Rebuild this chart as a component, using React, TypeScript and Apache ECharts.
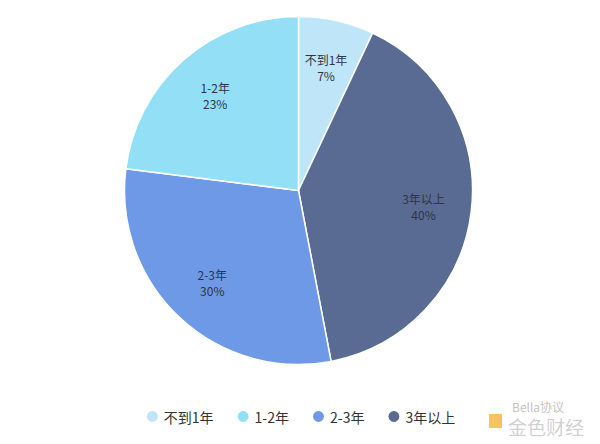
import React, { useEffect, useRef } from "react";
import * as echarts from "echarts";

const sliceNames = ["不到1年", "3年以上", "2-3年", "1-2年"];
const sliceValues = [7, 40, 30, 23];
const sliceColors = ["#BEE6F8", "#5A6B93", "#6E99E7", "#93E0F6"];
const legendOrder = ["不到1年", "1-2年", "2-3年", "3年以上"];

export default function App() {
  const ref = useRef<HTMLDivElement>(null);
  useEffect(() => {
    if (!ref.current) return;
    const chart = echarts.init(ref.current, null, { renderer: "svg" });
    const data = sliceNames.map((n, i) => ({
      name: n,
      value: sliceValues[i],
      itemStyle: { color: sliceColors[i] },
    }));
    chart.setOption({
      animation: false,
      backgroundColor: "#ffffff",
      legend: {
        data: legendOrder,
        left: "center",
        top: 404,
        icon: "circle",
        itemWidth: 13,
        itemHeight: 13,
        itemGap: 22,
        textStyle: {
          fontSize: 14,
          color: "#333",
          fontFamily: "'Noto Sans CJK SC', 'Noto Sans', sans-serif",
        },
      },
      series: [
        {
          type: "pie",
          center: [298.5, 190.5],
          radius: [0, 174],
          startAngle: 90,
          clockwise: true,
          itemStyle: { borderColor: "#fff", borderWidth: 1.5 },
          label: { show: false },
          labelLine: { show: false },
          data,
        },
        {
          type: "pie",
          silent: true,
          center: [298.5, 190.5],
          radius: [72, 174],
          startAngle: 90,
          clockwise: true,
          itemStyle: { color: "rgba(0,0,0,0)", borderWidth: 0 },
          label: {
            show: true,
            position: "inside",
            formatter: "{b}\n{d}%",
            fontSize: 12,
            lineHeight: 16,
            color: "#2f3542",
            fontFamily: "'Noto Sans CJK SC', 'Noto Sans', sans-serif",
          },
          labelLine: { show: false },
          data: sliceNames.map((n, i) => ({ name: n, value: sliceValues[i] })),
        },
      ],
      graphic: [
        {
          type: "rect",
          left: 489,
          top: 414,
          shape: { width: 13, height: 14 },
          style: { fill: "#F2B53A", opacity: 0.8 },
        },
        {
          type: "text",
          left: 512,
          top: 400,
          style: {
            text: "Bella协议",
            fontSize: 12,
            fill: "rgba(150,150,150,0.6)",
            fontFamily: "'Noto Sans CJK SC', sans-serif",
          },
        },
        {
          type: "text",
          left: 508,
          top: 417,
          style: {
            text: "金色财经",
            fontSize: 19,
            fill: "rgba(170,170,170,0.55)",
            fontFamily: "'Noto Sans CJK SC', sans-serif",
          },
        },
      ],
    });
    return () => chart.dispose();
  }, []);
  return (
    <div
      ref={ref}
      style={{ position: "absolute", left: 0, top: 0, width: 600, height: 444 }}
    />
  );
}
